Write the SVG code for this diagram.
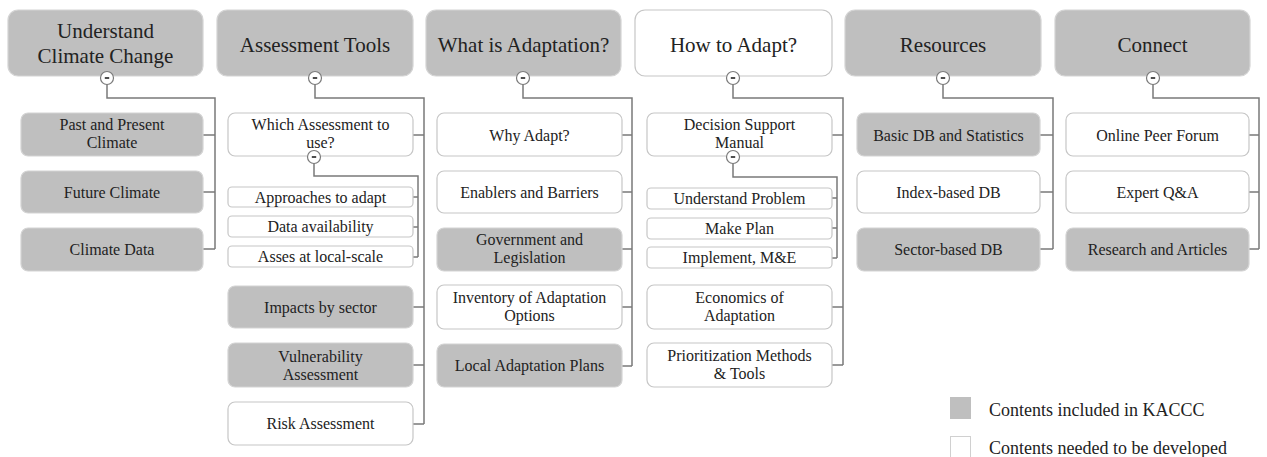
<svg xmlns="http://www.w3.org/2000/svg" width="1267" height="457" viewBox="0 0 1267 457">
<style>
.g{fill:#bfbfbf;stroke:#d4d4d4;stroke-width:1.2}
.w{fill:#ffffff;stroke:#c6c6c6;stroke-width:1.2}
text{font-family:'Liberation Serif','Times New Roman',Times,'DejaVu Serif',serif;fill:#222}
.h{font-size:21px;text-anchor:middle}
.t{font-size:16px;text-anchor:middle}
.l{font-size:18px}
.c{fill:none;stroke:#7a7a7a;stroke-width:1.5}
.k{fill:#fff;stroke:#7a7a7a;stroke-width:1.2}
.m{stroke:#222;stroke-width:1.6}
</style>
<defs>
<g id="tog"><circle class="k" cx="0" cy="0" r="6.5"/><line class="m" x1="-2.2" y1="0" x2="2.2" y2="0"/></g>
</defs>
<rect width="1267" height="457" fill="#fff"/>

<g id="connectors">
<path class="c" d="M107,84 V98 H215 V249 M203,135 H215 M203,192 H215 M203,249 H215"/>
<path class="c" d="M315,84 V98 H424 V424 M413,135 H424 M413,307 H424 M413,365 H424 M413,424 H424"/>
<path class="c" d="M314,163 V176 H418 V257 M413,197 H418 M413,227 H418 M413,257 H418"/>
<path class="c" d="M523,84 V98 H632 V366 M622,135 H632 M622,192 H632 M622,249 H632 M622,307 H632 M622,366 H632"/>
<path class="c" d="M733,84 V98 H843 V365 M832,135 H843 M832,307 H843 M832,365 H843"/>
<path class="c" d="M733,163 V177 H837 V258 M832,198 H837 M832,228 H837 M832,258 H837"/>
<path class="c" d="M943,84 V98 H1053 V249 M1040,135 H1053 M1040,192 H1053 M1040,249 H1053"/>
<path class="c" d="M1153,84 V98 H1259 V249 M1249,135 H1259 M1249,192 H1259 M1249,249 H1259"/>
</g>

<g id="h1"><rect class="g" x="8" y="10" width="195" height="66" rx="10"/><text class="h" x="105.5" y="38">Understand</text><text class="h" x="105.5" y="63">Climate Change</text><use href="#tog" x="107" y="78"/></g>
<g id="h2"><rect class="g" x="217" y="10" width="196" height="66" rx="10"/><text class="h" x="315" y="52">Assessment Tools</text><use href="#tog" x="315" y="78"/></g>
<g id="h3"><rect class="g" x="426" y="10" width="195" height="66" rx="10"/><text class="h" x="523.5" y="52">What is Adaptation?</text><use href="#tog" x="523" y="78"/></g>
<g id="h4"><rect class="w" x="635" y="10" width="197" height="66" rx="10"/><text class="h" x="733.5" y="52">How to Adapt?</text><use href="#tog" x="733" y="78"/></g>
<g id="h5"><rect class="g" x="845" y="10" width="196" height="66" rx="10"/><text class="h" x="943" y="52">Resources</text><use href="#tog" x="943" y="78"/></g>
<g id="h6"><rect class="g" x="1055" y="10" width="195" height="66" rx="10"/><text class="h" x="1152.5" y="52">Connect</text><use href="#tog" x="1153" y="78"/></g>

<g id="c1a"><rect class="g" x="21" y="113" width="182" height="43" rx="7"/><text class="t" x="112" y="130">Past and Present</text><text class="t" x="112" y="148">Climate</text></g>
<g id="c1b"><rect class="g" x="21" y="171" width="182" height="42" rx="7"/><text class="t" x="112" y="197.5">Future Climate</text></g>
<g id="c1c"><rect class="g" x="21" y="228" width="182" height="43" rx="7"/><text class="t" x="112" y="255">Climate Data</text></g>

<g id="c2a"><rect class="w" x="228" y="113" width="185" height="43" rx="7"/><text class="t" x="320.5" y="130">Which Assessment to</text><text class="t" x="320.5" y="148">use?</text><use href="#tog" x="314" y="157"/></g>
<g id="c2a1"><rect class="w" x="228" y="187" width="185" height="20" rx="4"/><text class="t" x="320.5" y="202.5">Approaches to adapt</text></g>
<g id="c2a2"><rect class="w" x="228" y="216" width="185" height="21" rx="4"/><text class="t" x="320.5" y="232">Data availability</text></g>
<g id="c2a3"><rect class="w" x="228" y="246" width="185" height="21" rx="4"/><text class="t" x="320.5" y="262">Asses at local-scale</text></g>
<g id="c2b"><rect class="g" x="228" y="286" width="185" height="42" rx="7"/><text class="t" x="320.5" y="312.5">Impacts by sector</text></g>
<g id="c2c"><rect class="g" x="228" y="343" width="185" height="44" rx="7"/><text class="t" x="320.5" y="362">Vulnerability</text><text class="t" x="320.5" y="380">Assessment</text></g>
<g id="c2d"><rect class="w" x="228" y="402" width="185" height="43" rx="7"/><text class="t" x="320.5" y="429">Risk Assessment</text></g>

<g id="c3a"><rect class="w" x="437" y="113" width="185" height="43" rx="7"/><text class="t" x="529.5" y="140.5">Why Adapt?</text></g>
<g id="c3b"><rect class="w" x="437" y="171" width="185" height="42" rx="7"/><text class="t" x="529.5" y="197.5">Enablers and Barriers</text></g>
<g id="c3c"><rect class="g" x="437" y="228" width="185" height="43" rx="7"/><text class="t" x="529.5" y="245">Government and</text><text class="t" x="529.5" y="263">Legislation</text></g>
<g id="c3d"><rect class="w" x="437" y="285" width="185" height="44" rx="7"/><text class="t" x="529.5" y="303">Inventory of Adaptation</text><text class="t" x="529.5" y="321">Options</text></g>
<g id="c3e"><rect class="g" x="437" y="344" width="185" height="43" rx="7"/><text class="t" x="529.5" y="371">Local Adaptation Plans</text></g>

<g id="c4a"><rect class="w" x="647" y="113" width="185" height="43" rx="7"/><text class="t" x="739.5" y="130">Decision Support</text><text class="t" x="739.5" y="148">Manual</text><use href="#tog" x="733" y="157"/></g>
<g id="c4a1"><rect class="w" x="647" y="188" width="185" height="21" rx="4"/><text class="t" x="739.5" y="204">Understand Problem</text></g>
<g id="c4a2"><rect class="w" x="647" y="218" width="185" height="21" rx="4"/><text class="t" x="739.5" y="234">Make Plan</text></g>
<g id="c4a3"><rect class="w" x="647" y="247" width="185" height="21" rx="4"/><text class="t" x="739.5" y="263">Implement, M&amp;E</text></g>
<g id="c4b"><rect class="w" x="647" y="285" width="185" height="44" rx="7"/><text class="t" x="739.5" y="303">Economics of</text><text class="t" x="739.5" y="321">Adaptation</text></g>
<g id="c4c"><rect class="w" x="647" y="343" width="185" height="44" rx="7"/><text class="t" x="739.5" y="361">Prioritization Methods</text><text class="t" x="739.5" y="379">&amp; Tools</text></g>

<g id="c5a"><rect class="g" x="857" y="113" width="183" height="43" rx="7"/><text class="t" x="948.5" y="140.5">Basic DB and Statistics</text></g>
<g id="c5b"><rect class="w" x="857" y="171" width="183" height="42" rx="7"/><text class="t" x="948.5" y="197.5">Index-based DB</text></g>
<g id="c5c"><rect class="g" x="857" y="228" width="183" height="43" rx="7"/><text class="t" x="948.5" y="255">Sector-based DB</text></g>

<g id="c6a"><rect class="w" x="1066" y="113" width="183" height="43" rx="7"/><text class="t" x="1157.5" y="140.5">Online Peer Forum</text></g>
<g id="c6b"><rect class="w" x="1066" y="171" width="183" height="42" rx="7"/><text class="t" x="1157.5" y="197.5">Expert Q&amp;A</text></g>
<g id="c6c"><rect class="g" x="1066" y="228" width="183" height="43" rx="7"/><text class="t" x="1157.5" y="255">Research and Articles</text></g>

<g id="legend">
<rect x="950" y="397" width="21" height="22" fill="#bfbfbf"/>
<text class="l" x="989" y="416">Contents included in KACCC</text>
<rect x="950.5" y="436.5" width="20" height="21" fill="#fff" stroke="#d0d0d0" stroke-width="1"/>
<text class="l" x="989" y="454">Contents needed to be developed</text>
</g>
</svg>
